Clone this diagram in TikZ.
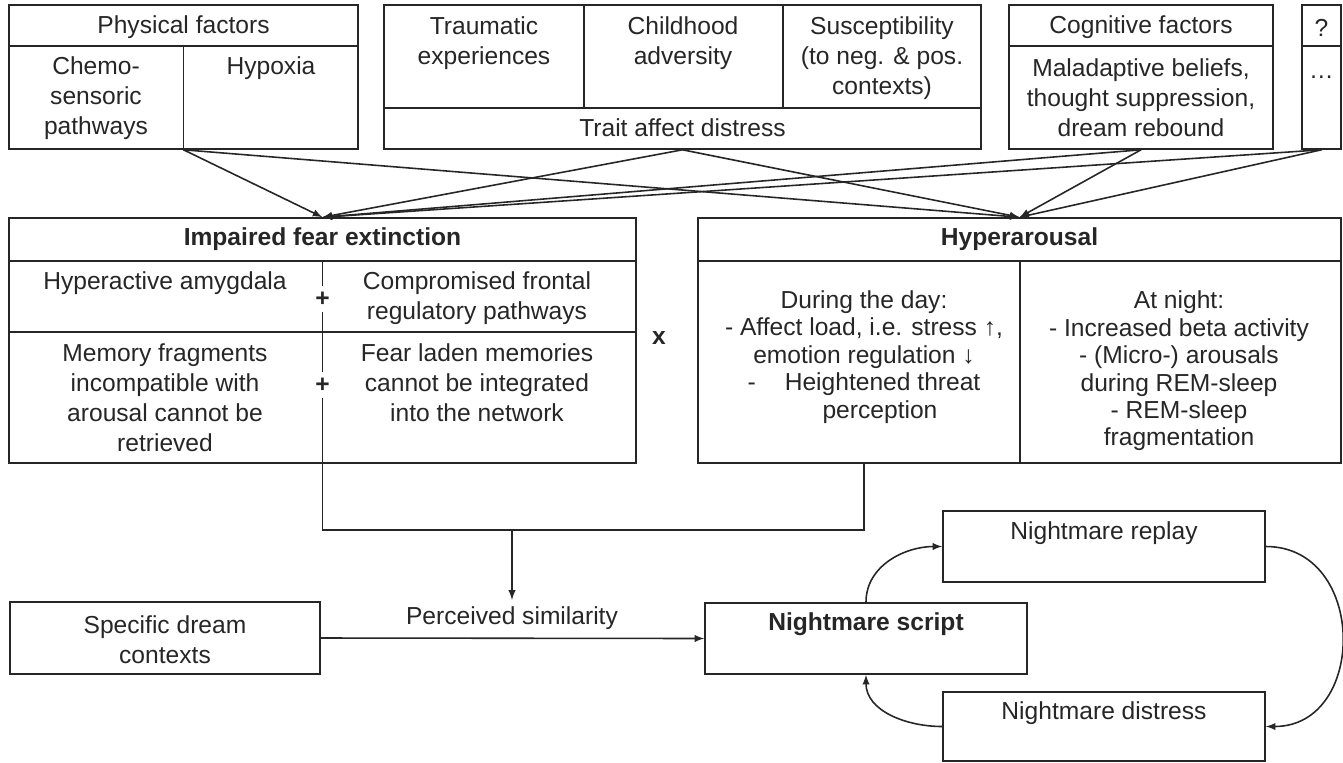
\documentclass[tikz,border=0pt]{standalone}
\usepackage{fontspec}
\setmainfont{Liberation Sans}
\usetikzlibrary{arrows.meta, fit, calc}

\begin{document}
\begin{tikzpicture}[>=latex, x=0.02cm, y=-0.02cm, line width=0.9pt, color=black!85,
  font=\fontsize{14}{17}\selectfont,
  box/.style={draw, inner sep=0pt, fit={#1}},
  txt/.style={align=center},
  bold/.style={font=\fontsize{14}{17}\selectfont\bfseries},
  hyp/.style={align=center, font=\fontsize{14}{15.6}\selectfont},
  sign/.style={fill=white, inner sep=0.12cm, font=\fontsize{14}{17}\selectfont\bfseries}]
\useasboundingbox (0,0) rectangle (1343,762);

\node[box={(9,5) (358,149)}] (phys) {};
\node[box={(384,5) (981,149)}] (trauma) {};
\node[box={(1009,5) (1273,149)}] (cogn) {};
\node[box={(1302,5) (1341,149)}] (misc) {};
\node[box={(9,218) (636,463)}] (fear) {};
\node[box={(698,218) (1341,463)}] (hyper) {};

\draw (9,46) -- (358,46) (183.5,46) -- (phys.south);
\draw (384,108) -- (981,108);
\foreach \x in {584,783}
  \draw (\x,5) -- (\x,108);
\draw (1009,46) -- (1273,46) (1302,46) -- (1341,46);
\draw (9,261) -- (636,261) (9,332) -- (636,332) (322.5,261) -- (fear.south);
\draw (698,261) -- (1341,261) (1020,261) -- (1020,463);

\node (physT) at (183.5,27) {Physical factors};
\node[txt] (chemoT) at (96,98) {Chemo-\\sensoric\\pathways};
\node (hypoxT) at (271,68) {Hypoxia};
\node[txt] (traumT) at (484,43) {Traumatic\\experiences};
\node[txt] (childT) at (683,43) {Childhood\\adversity};
\node[txt] (suscT) at (882,58) {Susceptibility\\(to neg. \& pos.\\contexts)};
\node (traitT) at (682.5,128) {Trait affect distress};
\node (cognT) at (1141,27) {Cognitive factors};
\node[txt] (malT) at (1141,98) {Maladaptive beliefs,\\thought suppression,\\dream rebound};
\node (qT) at (1321.5,28) {?};
\node (dotsT) at (1321.5,77) {…};

\node[bold] (fearT) at (322.5,239) {Impaired fear extinction};
\node (amygT) at (165,283) {Hyperactive amygdala};
\node[txt] (frontT) at (477,298) {Compromised frontal\\regulatory pathways};
\node[txt] (memT) at (165,398) {Memory fragments\\incompatible with\\arousal cannot be\\retrieved};
\node[txt] (ladenT) at (477,383) {Fear laden memories\\cannot be integrated\\into the network};
\node[sign] (plusA) at (322.5,299) {+};
\node[sign] (plusB) at (322.5,385) {+};
\node[bold] (timesT) at (659,338) {x};

\node[bold] (hyperT) at (1019.5,239) {Hyperarousal};
\node[hyp] (dayT) at (864,357) {During the day:\\- Affect load, i.e. stress ↑,\\emotion regulation ↓\\-\hspace{0.58cm}Heightened threat\\\hspace*{0.64cm}perception};
\node[hyp] (nightT) at (1179,371) {At night:\\- Increased beta activity\\- (Micro-) arousals\\during REM-sleep\\- REM-sleep\\fragmentation};

\node[box={(10,602) (320,674)}] (spec) {};
\node[box={(705,603) (1027,674)}] (script) {};
\node[box={(943,511) (1265,582)}] (replay) {};
\node[box={(943,692) (1265,761)}] (distress) {};
\node[txt] (specT) at (165,640) {Specific dream\\contexts};
\node[bold] (scriptT) at (866,624) {Nightmare script};
\node (replayT) at (1104,533) {Nightmare replay};
\node (distressT) at (1104,713) {Nightmare distress};
\node (simT) at (512,618) {Perceived similarity};

\foreach \s in {phys,trauma,cogn,misc}
  \foreach \t in {fear,hyper}
    \draw[->] (\s.south) -- (\t.north);

\coordinate (join) at (512,530);
\draw (fear.south) |- (join) -| (dayT |- hyper.south);
\draw[->] (join) -- (simT);
\draw[->] (spec.east) -- (script.west);
\draw[->] (script.north) to[out=90, in=180] (replay.west);
\draw[->] (replay.east) to[out=0, in=0, looseness=1.45] (distress.east);
\draw[->] (distress.west) to[out=180, in=-90] (script.south);

\end{tikzpicture}
\end{document}
